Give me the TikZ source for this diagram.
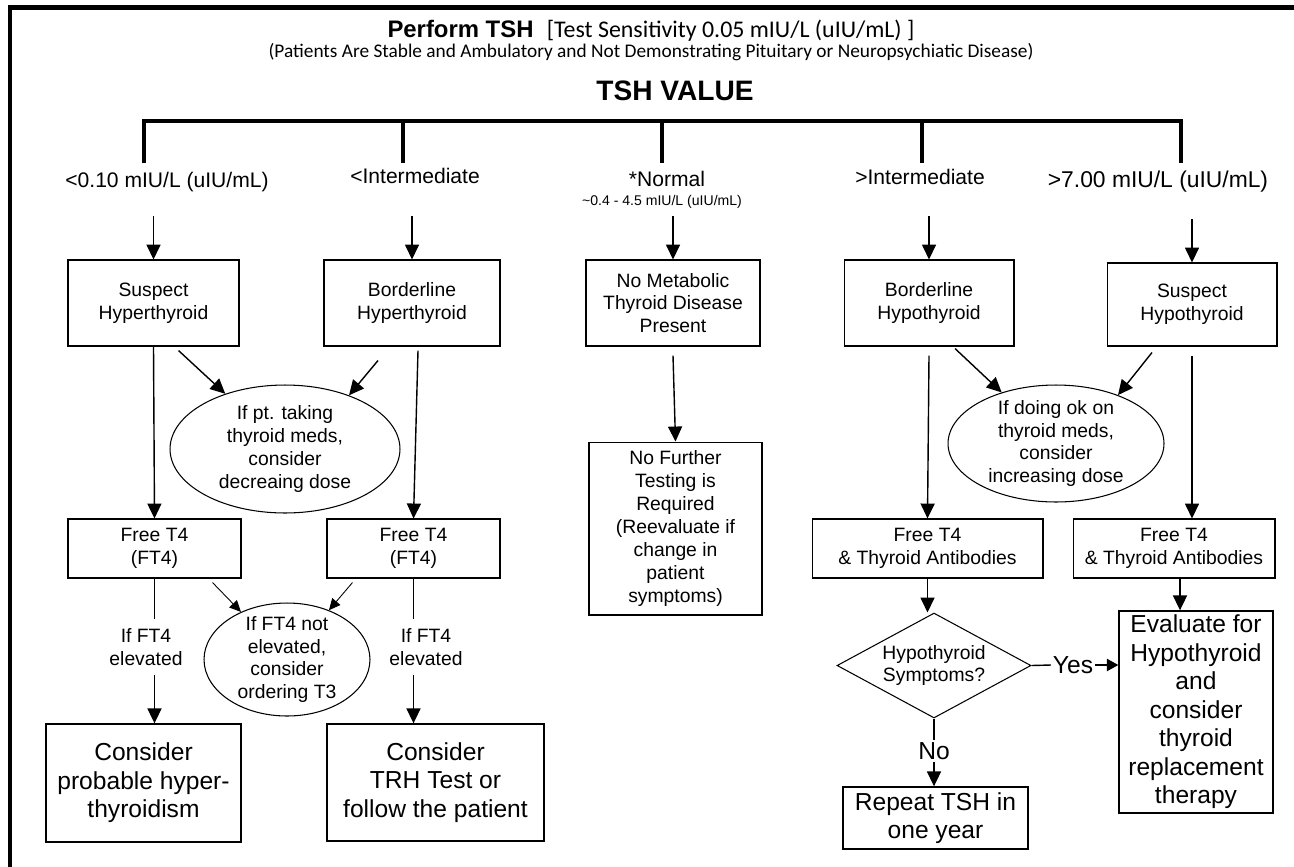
\documentclass[tikz,border=0pt]{standalone}
\usepackage{fontspec}
\setmainfont{Liberation Sans}
\newfontfamily\calibri{Carlito}
\usetikzlibrary{positioning, arrows.meta, shapes.geometric, calc}

\begin{document}
\begin{tikzpicture}[x=0.02cm, y=-0.02cm,
    box/.style={rectangle, draw, line width=0.6pt, align=center, inner sep=2pt, font=\fontsize{11}{13}\selectfont},
    bigbox/.style={box, line width=0.8pt, font=\fontsize{14}{16.2}\selectfont},
    oval/.style={ellipse, draw, line width=0.6pt, align=center, inner xsep=0pt, inner ysep=-4pt, font=\fontsize{11}{13}\selectfont},
    choice/.style={diamond, draw, line width=0.6pt, align=center, aspect=1.85, inner sep=0pt, font=\fontsize{11}{13}\selectfont},
    rangelbl/.style={anchor=base, font=\fontsize{12}{14}\selectfont},
    note/.style={align=center, inner sep=5pt, font=\fontsize{11}{13}\selectfont},
    answer/.style={inner sep=1pt, font=\fontsize{14}{16}\selectfont},
    bracket/.style={line width=1.8pt},
    link/.style={line width=0.8pt},
    arr/.style={link, -{Triangle[length=8.5pt, width=8pt]}},
    arrsmall/.style={link, -{Triangle[length=6.5pt, width=7pt]}},
    thinarr/.style={line width=0.5pt, -{Triangle[length=6.5pt, width=6pt]}}
]
    \useasboundingbox (0,0) rectangle (1294,866);
    \draw[line width=2.8pt] (10,875) -- (10,7.5) -- (1300,7.5);

    % heading
    \node[anchor=base] (title) at (651,37) {\fontsize{13.6}{16}\selectfont\bfseries Perform TSH\ \ {\calibri\mdseries [Test Sensitivity 0.05 mIU/L (uIU/mL) ]}};
    \node[anchor=base, font=\calibri\fontsize{11}{13}\selectfont] (cond) at (651,57) {(Patients Are Stable and Ambulatory and Not Demonstrating Pituitary or Neuropsychiatic Disease)};
    \node[anchor=base, font=\fontsize{16}{19}\selectfont\bfseries] (value) at (675,100) {TSH VALUE};

    % bracket over the ranges
    \draw[bracket] (144,163) -- (144,121) -- (1181,121) -- (1181,163);
    \foreach \x in {403,662,922}
        \draw[bracket] (\x,121) -- (\x,163);

    \node[rangelbl] (l1) at (167,187) {<0.10 mIU/L (uIU/mL)};
    \node[rangelbl] (l2) at (415,183) {<Intermediate};
    \node[rangelbl] (l3) at (667,186) {*Normal};
    \node[rangelbl, font=\fontsize{8}{9}\selectfont] (l3r) at (662,205) {\textasciitilde 0.4 - 4.5 mIU/L (uIU/mL)};
    \node[rangelbl] (l4) at (920,184) {>Intermediate};
    \node[rangelbl, font=\fontsize{13}{15}\selectfont] (l5) at (1158,187) {>7.00 mIU/L (uIU/mL)};

    % first boxes
    \node[box, minimum width=3.42cm, minimum height=1.72cm] (b1) at (153.5,303) {Suspect\\Hyperthyroid};
    \node[box, minimum width=3.52cm, minimum height=1.72cm] (b2) at (412,303) {Borderline\\Hyperthyroid};
    \node[box, minimum width=3.48cm, minimum height=1.72cm] (b3) at (673,303) {No Metabolic\\Thyroid Disease\\Present};
    \node[box, minimum width=3.40cm, minimum height=1.72cm] (b4) at (929,303) {Borderline\\Hypothyroid};
    \node[box, minimum width=3.40cm, minimum height=1.66cm] (b5) at (1192,304.5) {Suspect\\Hypothyroid};

    \node[oval, minimum width=4.6cm, minimum height=2.56cm] (e1) at (285,449) {If pt. taking\\thyroid meds,\\consider\\decreaing dose};
    \node[oval, minimum width=4.32cm, minimum height=2.34cm] (e2) at (1056,443.5) {If doing ok on\\thyroid meds,\\consider\\increasing dose};

    \node[box, minimum width=3.46cm, minimum height=1.18cm] (f1) at (154.5,548.5) {Free T4\\(FT4)};
    \node[box, minimum width=3.46cm, minimum height=1.18cm] (f2) at (413.5,548.5) {Free T4\\(FT4)};
    \node[box, minimum width=4.62cm, minimum height=1.18cm] (f3) at (927.5,548.5) {Free T4\\\& Thyroid Antibodies};
    \node[box, minimum width=4.04cm, minimum height=1.18cm] (f4) at (1174,548.5) {Free T4\\\& Thyroid Antibodies};

    \node[box, minimum width=3.46cm, minimum height=3.46cm] (nf) at (675.5,528.5) {No Further\\Testing is\\Required\\(Reevaluate if\\change in\\patient\\symptoms)};

    % lower part
    \node[oval, minimum width=3.32cm, minimum height=2.26cm] (e3) at (287,659.5) {If FT4 not\\elevated,\\consider\\ordering T3};
    \node[note] (k1) at (146,647) {If FT4\\elevated};
    \node[note] (k2) at (426,647) {If FT4\\elevated};

    \node[bigbox, minimum width=3.90cm, minimum height=2.36cm] (g1) at (143.5,783) {Consider\\probable hyper-\\thyroidism};
    \node[bigbox, minimum width=4.34cm, minimum height=2.34cm] (g2) at (435.5,782.5) {Consider\\TRH Test or\\follow the patient};

    \node[choice, minimum width=3.88cm, minimum height=2.10cm] (d) at (934,665.5) {Hypothyroid\\Symptoms?};
    \node[bigbox, minimum width=3.08cm, minimum height=4.04cm] (h) at (1196,712) {Evaluate for\\Hypothyroid\\and\\consider\\thyroid\\replacement\\therapy};
    \node[bigbox, minimum width=3.70cm, minimum height=1.24cm] (r) at (935.5,818) {Repeat TSH in\\one year};
    \node[answer] (yes) at (1073,665) {Yes};
    \node[answer] (no) at (934,751) {No};

    % connectors
    \foreach \n in {b1,b2,b3,b4,b5}
        \draw[arr] ($(\n.north)+(0,-43)$) -- (\n.north);

    \draw[arr] ($(b1.south)+(25,4)$) -- (e1);
    \draw[arr] ($(b2.south)+(-34,14)$) -- (e1.40);
    \draw[arr] ($(b4.south)+(26,2)$) -- (e2);
    \draw[arr] ($(b5.south)+(-40,6)$) -- (e2.38);

    \draw[arr] (b1.south) -- (f1.north);
    \draw[arr] ($(b2.south)+(6,4)$) -- (f2.north);
    \draw[arr] ($(b3.south)+(0,9)$) -- (nf.north);
    \draw[arr] ($(b4.south)+(0,9)$) -- (f3.north);
    \coordinate (b5o) at ($(b5.south)+(0,9)$);
    \draw[arr] (b5o) -- (b5o |- f4.north);

    \draw[link] (f1.south) -- (f1.south |- k1.north);
    \draw[arr] (f1.south |- k1.south) -- (f1.south |- g1.north);
    \draw[link] (f2.south) -- (f2.south |- k2.north);
    \draw[arr] (f2.south |- k2.south) -- (f2.south |- g2.north);
    \draw[thinarr] ($(f1.south east)+(-29,4)$) -- (e3);
    \draw[thinarr] ($(f2.south west)+(26,4)$) -- (e3);

    \draw[arr] (f3.south) -- (f3.south |- d.north);
    \coordinate (f4o) at ($(f4.south)+(6,0)$);
    \draw[arr] (f4o) -- (f4o |- h.north);
    \draw[link] (d.east) -- (yes.west);
    \draw[arrsmall] (yes.east) -- (yes.east -| h.west);
    \draw[link] (d.south) -- (d.south |- no.north);
    \draw[arr] (no.south) -- (no.south |- r.north);
\end{tikzpicture}
\end{document}
